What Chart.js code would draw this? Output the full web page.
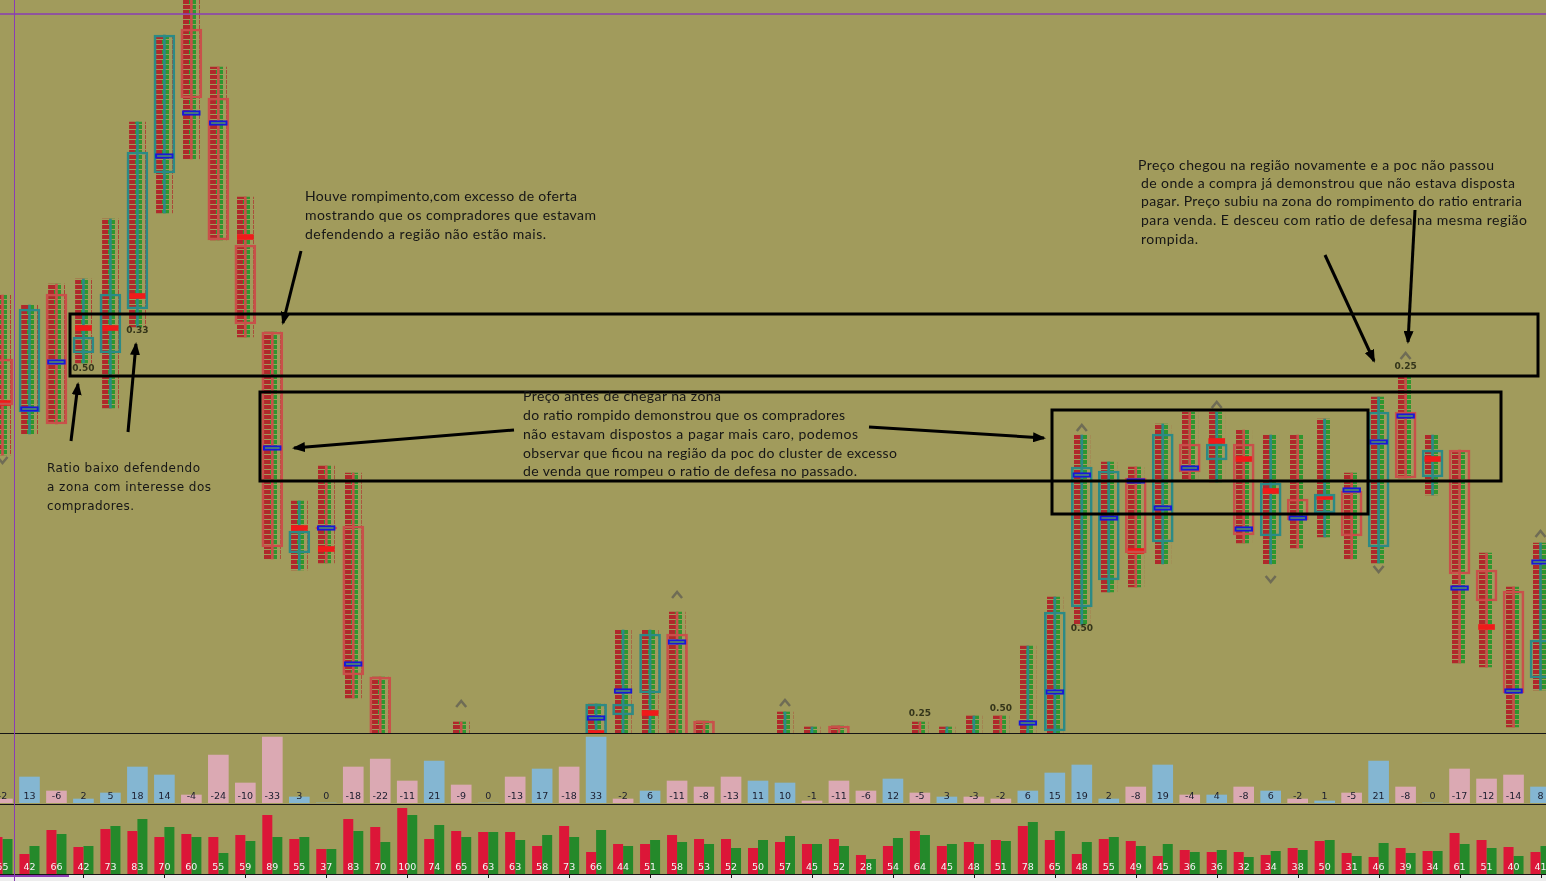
<!DOCTYPE html>
<html lang="pt-BR">
<head>
<meta charset="UTF-8">
<title>Footprint - ratio de defesa</title>
<script src="https://cdn.jsdelivr.net/npm/chart.js@4.4.0/dist/chart.umd.min.js"></script>
<style>
    body {
        margin: 0;
        width: 1546px;
        height: 881px;
        overflow: hidden;
        position: relative;
        background-color: #a19b5c;
    }
    .panel { position: absolute; left: -11px; width: 1565px; }
    #mainBox { top: 0; height: 733px; }
    #deltaBox { top: 733px; height: 70px; }
    #volBox { top: 805px; height: 76px; }
    .hline { position: absolute; left: 0; width: 1546px; height: 1px; background: #151515; }
    #notes { position: absolute; left: 0; top: 0; }
</style>
</head>
<body>
<div class="panel" id="mainBox"><canvas id="mainChart"></canvas></div>
<div class="panel" id="deltaBox"><canvas id="deltaChart"></canvas></div>
<div class="panel" id="volBox"><canvas id="volChart"></canvas></div>
<div class="hline" style="top:733px"></div>
<div class="hline" style="top:804px"></div>

<svg id="notes" width="1546" height="881" xmlns="http://www.w3.org/2000/svg">
    <defs>
        <marker id="head" markerUnits="userSpaceOnUse" markerWidth="13" markerHeight="10" refX="11" refY="5" orient="auto">
            <path d="M0,0 L13,5 L0,10 z" fill="#000"/>
        </marker>
    </defs>
    <!-- guide lines -->
    <line x1="0" y1="14" x2="1546" y2="14" stroke="#8a3cb4" stroke-width="1.5"/>
    <line x1="14.5" y1="0" x2="14.5" y2="881" stroke="#8a3cb4" stroke-width="1"/>

    <!-- zones -->
    <g fill="none" stroke="#000" stroke-width="3">
        <rect x="70" y="314" width="1468" height="62"/>
        <rect x="260" y="392" width="1241" height="89"/>
        <rect x="1052" y="410" width="316" height="104"/>
    </g>
    <g stroke="#000" stroke-width="3" marker-end="url(#head)">
        <line x1="71" y1="441" x2="78" y2="384"/>
        <line x1="128" y1="432" x2="136" y2="344"/>
        <line x1="301" y1="251" x2="283" y2="323"/>
        <line x1="514" y1="430" x2="294" y2="448"/>
        <line x1="869" y1="427" x2="1044" y2="438"/>
        <line x1="1325" y1="255" x2="1374" y2="361"/>
        <line x1="1415" y1="210" x2="1408" y2="342"/>
    </g>

    <g font-family="Lato, 'Open Sans', sans-serif" font-size="14" fill="#161616" lengthAdjust="spacingAndGlyphs">
        <text x="305" y="201" textLength="272">Houve rompimento,com excesso de oferta</text>
        <text x="305" y="220" textLength="291">mostrando que os compradores que estavam</text>
        <text x="305" y="239" textLength="241">defendendo a região não estão mais.</text>

        <text x="1138" y="170" textLength="356">Preço chegou na região novamente e a poc não passou</text>
        <text x="1141" y="188" textLength="374">de onde a compra já demonstrou que não estava disposta</text>
        <text x="1141" y="206" textLength="381">pagar. Preço subiu na zona do rompimento do ratio entraria</text>
        <text x="1141" y="225" textLength="386">para venda. E desceu com ratio de defesa na mesma região</text>
        <text x="1141" y="244" textLength="57">rompida.</text>

        <text x="523" y="401" textLength="198">Preço antes de chegar na zona</text>
        <text x="523" y="420" textLength="322">do ratio rompido demonstrou que os compradores</text>
        <text x="523" y="439" textLength="335">não estavam dispostos a pagar mais caro, podemos</text>
        <text x="523" y="458" textLength="374">observar que ficou na região da poc do cluster de excesso</text>
        <text x="523" y="476" textLength="334">de venda que rompeu o ratio de defesa no passado.</text>
    </g>
    <g font-family="'DejaVu Sans', Verdana, sans-serif" font-size="12" fill="#161616" lengthAdjust="spacingAndGlyphs">
        <text x="47" y="472" textLength="153">Ratio baixo defendendo</text>
        <text x="47" y="491" textLength="164">a zona com interesse dos</text>
        <text x="47" y="510" textLength="87">compradores.</text>
    </g>
</svg>

<script>
    // one entry per bar (58 bars); price levels in points, null = out of view
    const opens  = [374, 321, 439, 380, 380, 424, 560, 704, 635, 488, 401, 180, 206, 207, 56, null, null, -10, null, null, null, null, -27, 18, 40, 99, 12, null, null, -27, -27, 7, null, null, -10, -27, -27, -10, -27, 2, 126, 153, 255, 191, 289, 273, 289, 197, 234, 220, 242, 186, 321, 256, 283, 163, 142, 55];
    const closes = [328, 424, 309, 396, 439, 581, 698, 635, 493, 409, 186, 202, 204, 58, -7, null, null, -30, null, null, null, null, 29, 29, 99, -27, -27, null, null, -12, -15, -27, null, null, -27, -15, -10, -27, -7, 121, 266, 262, 180, 299, 261, 289, 198, 250, 213, 239, 197, 321, 255, 283, 159, 132, 40, 93];
    const highs  = [438, 428, 449, 454, 514, 611, 698, 743, 666, 536, 401, 232, 267, 260, 56, null, null, 11, null, null, null, null, 29, 103, 103, 121, 12, null, null, 21, 6, 7, null, null, 11, 6, 17, 17, 87, 136, 298, 271, 266, 309, 321, 321, 303, 298, 298, 314, 260, 336, 358, 298, 283, 180, 146, 190];
    const lows   = [278, 299, 309, 370, 325, 406, 520, 574, 493, 396, 174, 163, 170, 35, -27, null, null, -30, null, null, null, null, -37, -27, -27, -37, -37, null, null, -27, -27, -37, null, null, -27, -27, -27, -27, -27, -27, 108, 141, 146, 169, 253, 251, 190, 169, 185, 196, 174, 170, 255, 238, 70, 66, 6, 43];
    const pocs   = [null, 324, 371, null, null, null, 577, 620, 610, null, 285, null, 205, 69, null, null, null, null, null, null, null, null, 15, 42, null, 91, null, null, null, null, null, null, null, null, null, null, null, null, 10, 41, 258, 215, 252, 225, 265, null, 204, null, 215, null, 243, 291, 317, null, 145, null, 42, 171];
    const imbalance = [330, null, null, 405, 405, 437, null, null, null, 496, null, 205, 184, null, null, null, null, null, null, null, null, null, 0, null, 20, null, null, null, null, null, null, null, null, null, null, null, null, null, null, null, null, null, 182, null, null, 292, 274, 242, null, 236, null, null, null, 274, null, 106, null, null];
    const ratios   = [null, null, null, '0.50', null, '0.33', null, null, null, null, null, null, null, null, null, null, null, null, null, null, null, null, null, null, null, null, null, null, null, null, null, null, null, null, '0.25', null, null, '0.50', null, null, '0.50', null, null, null, null, null, null, null, null, null, null, null, '0.25', null, null, null, null, null];
    const ratioAt  = [null, null, null, 364, null, 402, null, null, null, null, null, null, null, null, null, null, null, null, null, null, null, null, null, null, null, null, null, null, null, null, null, null, null, null, 19, null, null, 24, null, null, 104, null, null, null, null, null, null, null, null, null, null, null, 366, null, null, null, null, null];
    const arrowsUp   = [null, null, null, null, null, null, null, null, null, null, null, null, null, null, null, null, null, 29, null, null, null, null, null, null, null, 138, null, null, null, 30, null, null, null, null, null, null, null, null, null, null, 305, null, null, null, null, 328, null, null, null, null, null, null, 377, null, null, null, null, 199];
    const arrowsDown = [273, null, null, null, null, null, null, null, null, null, null, null, null, null, null, null, null, null, null, null, null, null, null, null, null, null, null, null, null, null, null, null, null, null, null, null, null, null, null, null, null, null, null, null, null, null, null, 154, null, null, null, 164, null, null, null, null, null, null];

    const deltas = [-2, 13, -6, 2, 5, 18, 14, -4, -24, -10, -33, 3, 0, -18, -22, -11, 21, -9, 0, -13, 17, -18, 33, -2, 6, -11, -8, -13, 11, 10, -1, -11, -6, 12, -5, 3, -3, -2, 6, 15, 19, 2, -8, 19, -4, 4, -8, 6, -2, 1, -5, 21, -8, 0, -17, -12, -14, 8];
    const volumes = [55, 42, 66, 42, 73, 83, 70, 60, 55, 59, 89, 55, 37, 83, 70, 100, 74, 65, 63, 63, 58, 73, 66, 44, 51, 58, 53, 52, 50, 57, 45, 52, 28, 54, 64, 45, 48, 51, 78, 65, 48, 55, 49, 45, 36, 36, 32, 34, 38, 50, 31, 46, 39, 34, 61, 51, 40, 41];
    const sellBars = [37, 20, 44, 27, 45, 43, 37, 40, 37, 39, 59, 35, 25, 55, 47, 66, 35, 43, 42, 42, 28, 48, 22, 30, 30, 39, 35, 35, 26, 32, 30, 35, 19, 28, 43, 28, 32, 34, 48, 34, 20, 35, 33, 18, 24, 22, 22, 19, 26, 33, 21, 17, 26, 23, 41, 34, 27, 22];
    const buyBars  = [35, 28, 40, 28, 48, 55, 47, 37, 21, 33, 37, 37, 25, 43, 32, 59, 49, 37, 42, 34, 39, 37, 44, 28, 34, 32, 30, 26, 34, 38, 30, 28, 15, 36, 39, 30, 30, 33, 52, 43, 32, 37, 28, 30, 22, 24, 17, 23, 24, 34, 18, 31, 21, 23, 30, 26, 18, 28];

    const labels = deltas.map((d, i) => String(i + 1));

    const UP = '#2c8a86';
    const DOWN = '#c9504a';

    // texture for the footprint cells (sell cell left, buy cell right)
    const tile = document.createElement('canvas');
    tile.width = 16;
    tile.height = 10;
    const tc = tile.getContext('2d');
    tc.fillStyle = '#b0282b';
    tc.fillRect(0, 0, 6, 4);
    tc.fillRect(0, 5, 9, 4);
    tc.fillStyle = '#2f962f';
    tc.fillRect(6, 0, 7, 4);
    tc.fillRect(9, 5, 4, 4);

    function footFill(ctx) {
        const xs = ctx.chart.scales && ctx.chart.scales.x;
        if (!xs || ctx.dataIndex === undefined) return '#8a5a30';
        const p = ctx.chart.ctx.createPattern(tile, 'repeat');
        const left = Math.round(xs.getPixelForValue(ctx.dataIndex) - 8);
        p.setTransform(new DOMMatrix([1, 0, 0, 1, left, 0]));
        return p;
    }

    const candleColor = opens.map((o, i) => (closes[i] !== null && closes[i] > o) ? UP : DOWN);
    const range = (a, b) => a.map((v, i) => (v === null || b[i] === null) ? null : [v, b[i]]);
    const cell = (arr) => arr.map(v => v === null ? null : [v - 2.5, v + 2.5]);

    const common = {
        responsive: true,
        maintainAspectRatio: false,
        animation: false,
        events: [],
        plugins: { legend: { display: false }, tooltip: { enabled: false } }
    };

    // ratio labels and the little chevrons
    const markPlugin = {
        id: 'marks',
        afterDatasetsDraw(chart) {
            const c = chart.ctx, xs = chart.scales.x, ys = chart.scales.y;
            c.save();
            c.font = 'bold 9px "DejaVu Sans", sans-serif';
            c.fillStyle = '#34351a';
            c.textAlign = 'center';
            c.textBaseline = 'middle';
            ratios.forEach((r, i) => {
                if (r === null) return;
                c.fillText(r, xs.getPixelForValue(i), ys.getPixelForValue(ratioAt[i]));
            });
            c.strokeStyle = '#6f6c55';
            c.lineWidth = 2.5;
            const chevron = (i, v, dir) => {
                if (v === null) return;
                const x = xs.getPixelForValue(i), y = ys.getPixelForValue(v);
                c.beginPath();
                c.moveTo(x - 5, y + 3 * dir);
                c.lineTo(x, y - 3 * dir);
                c.lineTo(x + 5, y + 3 * dir);
                c.stroke();
            };
            arrowsUp.forEach((v, i) => chevron(i, v, 1));
            arrowsDown.forEach((v, i) => chevron(i, v, -1));
            c.restore();
        }
    };

    new Chart(document.getElementById('mainChart'), {
        type: 'bar',
        data: {
            labels: labels,
            datasets: [
                {
                    label: 'POC',
                    data: cell(pocs),
                    grouped: false,
                    order: 1,
                    barThickness: 18,
                    backgroundColor: '#4e8d6e',
                    borderColor: '#1818d8',
                    borderWidth: 2,
                    borderSkipped: false
                },
                {
                    label: 'Candle',
                    data: range(opens, closes),
                    grouped: false,
                    order: 2,
                    barThickness: 21,
                    backgroundColor: 'rgba(0,0,0,0)',
                    borderColor: candleColor,
                    borderWidth: 2,
                    borderSkipped: false
                },
                {
                    label: 'Excesso',
                    data: cell(imbalance),
                    grouped: false,
                    order: 3,
                    barThickness: 16,
                    backgroundColor: '#f01a1a'
                },
                {
                    label: 'Pavio',
                    data: range(lows, highs),
                    grouped: false,
                    order: 4,
                    barThickness: 2,
                    backgroundColor: candleColor
                },
                {
                    label: 'Footprint',
                    data: range(lows, highs),
                    grouped: false,
                    order: 5,
                    barThickness: 16,
                    backgroundColor: footFill
                }
            ]
        },
        options: Object.assign({}, common, {
            scales: {
                x: { display: false },
                y: { display: false, min: 0, max: 733 }
            }
        }),
        plugins: [markPlugin]
    });

    const deltaLabels = {
        id: 'deltaLabels',
        afterDatasetsDraw(chart) {
            const c = chart.ctx, xs = chart.scales.x;
            c.save();
            c.font = '9.5px "DejaVu Sans", Tahoma, sans-serif';
            c.fillStyle = '#1b1d2e';
            c.textAlign = 'center';
            c.textBaseline = 'middle';
            deltas.forEach((d, i) => c.fillText(String(d), xs.getPixelForValue(i), chart.chartArea.bottom - 6));
            c.restore();
        }
    };

    new Chart(document.getElementById('deltaChart'), {
        type: 'bar',
        data: {
            labels: labels,
            datasets: [{
                label: 'Delta',
                data: deltas.map(Math.abs),
                backgroundColor: deltas.map(d => d < 0 ? '#dba9b3' : '#84b6d2'),
                barThickness: 20
            }]
        },
        options: Object.assign({}, common, {
            scales: {
                x: { display: false },
                y: { display: false, min: 0, max: 35 }
            }
        }),
        plugins: [deltaLabels]
    });

    const volLabels = {
        id: 'volLabels',
        afterDatasetsDraw(chart) {
            const c = chart.ctx, xs = chart.scales.x, a = chart.chartArea;
            c.save();
            c.font = '9.5px "DejaVu Sans", Tahoma, sans-serif';
            c.fillStyle = '#f4f4f4';
            c.textAlign = 'center';
            c.textBaseline = 'middle';
            volumes.forEach((v, i) => c.fillText(String(v), xs.getPixelForValue(i), a.bottom - 6));
            // time axis strip
            c.fillStyle = '#ededed';
            c.fillRect(0, a.bottom, chart.width, chart.height - a.bottom);
            c.fillStyle = '#151515';
            c.fillRect(0, a.bottom, chart.width, 1);
            labels.forEach((l, i) => {
                if (i % 3 !== 0 || i === 0) return;
                c.fillRect(Math.round(xs.getPixelForValue(i)), a.bottom, 1, 4);
            });
            c.fillStyle = '#8a3cb4';
            c.fillRect(0, a.bottom + 1, 80, 2);
            c.restore();
        }
    };

    new Chart(document.getElementById('volChart'), {
        type: 'bar',
        data: {
            labels: labels,
            datasets: [
                { label: 'Venda', data: sellBars, backgroundColor: '#dc1638', categoryPercentage: 0.742, barPercentage: 1 },
                { label: 'Compra', data: buyBars, backgroundColor: '#24892a', categoryPercentage: 0.742, barPercentage: 1 }
            ]
        },
        options: Object.assign({}, common, {
            layout: { padding: { bottom: 7 } },
            scales: {
                x: { display: false },
                y: { display: false, min: 0, max: 69 }
            }
        }),
        plugins: [volLabels]
    });
</script>
</body>
</html>
